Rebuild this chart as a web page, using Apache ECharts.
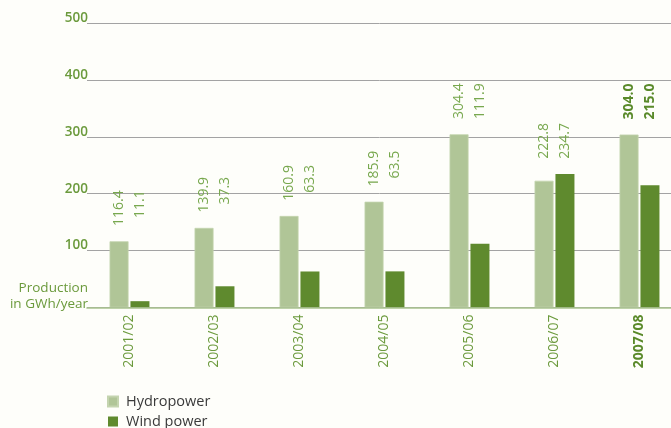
<!DOCTYPE html>
<html>
<head>
<meta charset="utf-8">
<script src="https://cdn.jsdelivr.net/npm/echarts@6/dist/echarts.min.js"></script>
<style>
html,body{margin:0;padding:0;background:#fefefa;}
#c{width:671px;height:428px;}
</style>
</head>
<body>
<div id="c"></div>
<script>
const categories = ['2001/02','2002/03','2003/04','2004/05','2005/06','2006/07','2007/08'];
const hydropower = [116.4, 139.9, 160.9, 185.9, 304.4, 222.8, 304.0];
const windpower = [11.1, 37.3, 63.3, 63.5, 111.9, 234.7, 215.0];
const yTicks = [0, 100, 200, 300, 400, 500];
const boldCategory = '2007/08';
const seriesNames = ['Hydropower', 'Wind power'];
const unitLines = ['Production', 'in GWh/year'];

const FONT = '"Open Sans", "Noto Sans", sans-serif';
const C_HYDRO = '#b0c597';
const C_WIND = '#5f8a2e';
const C_TEXT = '#6b9a3c';
const C_VAL = '#78a84e';
const C_BOLD = '#5a8a2a';
const BAR_W = 19;
const BAR_GAP_PX = 2;
const LABEL_LIFT = 51;

const labelData = categories.map((c, i) => [i, Math.max(hydropower[i], windpower[i]), hydropower[i], windpower[i]]);

function renderLabels(params, api) {
  const idx = api.value(0);
  const p = api.coord([idx, api.value(1)]);
  const bold = categories[idx] === boldCategory;
  const off = (BAR_W + BAR_GAP_PX) / 2;
  const mk = (dx, v) => ({
    type: 'text',
    x: p[0] + dx,
    y: p[1] - LABEL_LIFT,
    rotation: Math.PI / 2,
    style: {
      text: Number(v).toFixed(1),
      align: 'right',
      verticalAlign: 'middle',
      font: (bold ? 'bold ' : '') + '14px ' + FONT,
      fill: bold ? C_BOLD : C_VAL
    }
  });
  return { type: 'group', children: [mk(-off, api.value(2)), mk(off, api.value(3))] };
}

const chart = echarts.init(document.getElementById('c'), null, { renderer: 'canvas' });
chart.setOption({
  backgroundColor: '#fefefa',
  animation: false,
  grid: { left: 87, width: 595, top: 23, bottom: 120.5, containLabel: false, outerBoundsMode: 'none' },
  legend: {
    data: seriesNames,
    orient: 'vertical',
    left: 107,
    top: 394,
    height: 60,
    padding: 0,
    icon: 'rect',
    itemWidth: 10,
    itemHeight: 10,
    itemGap: 5,
    textStyle: { fontFamily: FONT, fontSize: 14.5, color: '#3a3a3a', padding: [0, 0, 0, 3] }
  },
  xAxis: {
    type: 'category',
    data: categories,
    axisLine: { lineStyle: { color: '#a9c48e', width: 1.6 } },
    axisTick: { show: false },
    axisLabel: {
      rotate: 90,
      margin: 7,
      fontFamily: FONT,
      fontSize: 14,
      color: C_TEXT,
      formatter: v => v === boldCategory ? '{b|' + v + '}' : v,
      rich: { b: { fontFamily: FONT, fontSize: 14, fontWeight: 'bold', color: C_BOLD } }
    },
    z: 5
  },
  yAxis: {
    type: 'value',
    min: yTicks[0],
    max: yTicks[yTicks.length - 1],
    interval: 100,
    axisLine: { show: false },
    axisTick: { show: false },
    splitLine: { lineStyle: { color: '#a3a3a3', width: 1 } },
    axisLabel: {
      margin: -1,
      fontFamily: FONT,
      fontSize: 13.5,
      fontWeight: 600,
      color: C_TEXT,
      verticalAlign: 'bottom',
      lineHeight: 10,
      formatter: v => (v === 0 ? '' : String(v))
    }
  },
  graphic: unitLines.map((t, i) => ({
    type: 'text',
    right: 671 - 88,
    top: 281 + i * 16,
    style: {
      text: t,
      fontFamily: FONT,
      fontSize: 13.5,
      fontWeight: 500,
      fill: C_TEXT
    }
  })),
  series: [{
    type: 'bar',
    name: seriesNames[0],
    data: hydropower,
    barWidth: BAR_W,
    barGap: '10%',
    itemStyle: { color: C_HYDRO, borderColor: '#c4d4af', borderWidth: 0.8 }
  }, {
    type: 'bar',
    name: seriesNames[1],
    data: windpower,
    barWidth: BAR_W,
    barGap: '10%',
    itemStyle: { color: C_WIND }
  }, {
    type: 'custom',
    name: 'labels',
    silent: true,
    renderItem: renderLabels,
    data: labelData,
    encode: { x: 0, y: 1 },
    z: 10
  }]
});
</script>
</body>
</html>
